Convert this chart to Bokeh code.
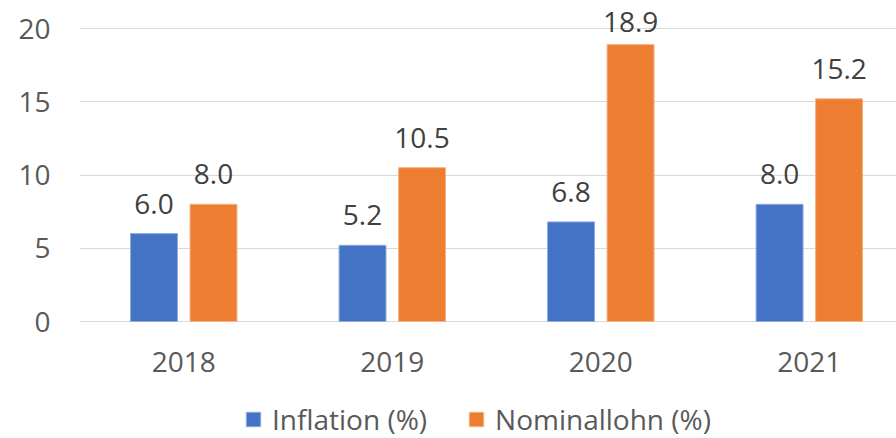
import numpy as np
from bokeh.plotting import figure
from bokeh.models import Range1d, FixedTicker, Legend, LegendItem, ColumnDataSource, LabelSet
from bokeh.core.properties import value
from bokeh.embed import file_html
from bokeh.resources import INLINE

categories = ["2018", "2019", "2020", "2021"]
inflation = [6.0, 5.2, 6.8, 8.0]
nominal = [8.0, 10.5, 18.9, 15.2]
y_ticks = [0, 5, 10, 15, 20]

FONT = "Open Sans"
FS = "28px"
BLUE = "#4472C4"
ORANGE = "#ED7D31"

PX_PER_UNIT = 14.65
Y_MAX = 321 / PX_PER_UNIT
Y_MIN = -(438 - 321) / PX_PER_UNIT    # room below the baseline for category labels and legend
LABEL_GAP = 20 / PX_PER_UNIT          # baseline of value labels above bar top
LABEL_CAP = Y_MAX - 31 / PX_PER_UNIT  # labels are kept inside the plot area

xc = np.arange(len(categories)) + 0.5
off = 0.1427
bw = 0.225

p = figure(width=896, height=438, output_backend="svg", toolbar_location=None,
           x_range=Range1d(0, 3.918), y_range=Range1d(Y_MIN, Y_MAX),
           min_border=0, min_border_left=79)
p.outline_line_color = None


def lab_y(vals):
    return [min(v + LABEL_GAP, LABEL_CAP) for v in vals]


src_i = ColumnDataSource(dict(x=xc - off, top=inflation, ly=lab_y(inflation),
                              lab=[f"{v:.1f}" for v in inflation]))
src_n = ColumnDataSource(dict(x=xc + off, top=nominal, ly=lab_y(nominal),
                              lab=[f"{v:.1f}" for v in nominal]))

r1 = p.vbar(x="x", top="top", width=bw, source=src_i, fill_color=BLUE, line_color="#8faadc", line_width=1)
r2 = p.vbar(x="x", top="top", width=bw, source=src_n, fill_color=ORANGE, line_color="#f4b183", line_width=1)

for s in (src_i, src_n):
    lbl = LabelSet(x="x", y="ly", text="lab", source=s, text_align="center", text_baseline="alphabetic",
                   text_font=value(FONT), text_font_size=FS, text_color="#404040")
    p.add_layout(lbl)

# axes
p.yaxis.ticker = FixedTicker(ticks=y_ticks)
p.yaxis.axis_line_color = None
p.yaxis.major_tick_line_color = None
p.yaxis.minor_tick_line_color = None
p.yaxis.major_label_standoff = 23
p.yaxis.major_label_text_font = FONT
p.yaxis.major_label_text_font_size = FS
p.yaxis.major_label_text_color = "#595959"

p.xaxis.fixed_location = 0
p.xaxis.ticker = FixedTicker(ticks=list(xc))
p.xaxis.major_label_overrides = {float(x): c for x, c in zip(xc, categories)}
p.xaxis.axis_line_color = None
p.xaxis.major_tick_line_color = None
p.xaxis.minor_tick_line_color = None
p.xaxis.major_label_standoff = 24
p.xaxis.major_label_text_font = FONT
p.xaxis.major_label_text_font_size = FS
p.xaxis.major_label_text_color = "#595959"

p.xgrid.grid_line_color = None
p.ygrid.ticker = FixedTicker(ticks=y_ticks)
p.ygrid.grid_line_color = "#d9d9d9"
p.ygrid.grid_line_width = 1.2

legend = Legend(items=[LegendItem(label="Inflation (%)", renderers=[r1]),
                       LegendItem(label="Nominallohn (%)", renderers=[r2])],
                orientation="horizontal", location=(165, 0),
                glyph_width=18, glyph_height=18, label_standoff=10, spacing=40,
                label_text_font=FONT, label_text_font_size=FS, label_text_color="#595959",
                padding=0, margin=0, border_line_color=None, background_fill_alpha=0)
p.add_layout(legend, "center")

open("out.html", "w").write(file_html(p, INLINE))
